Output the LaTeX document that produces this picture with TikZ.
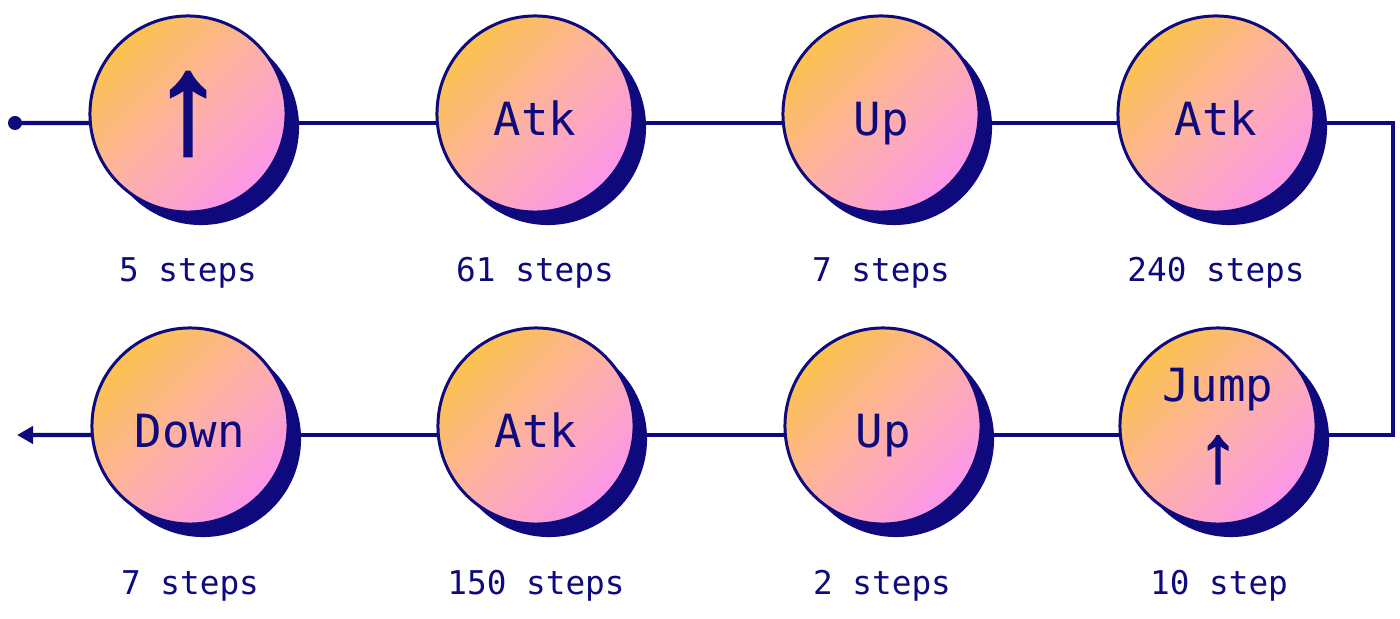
\documentclass[tikz,border=0pt]{standalone}
\usepackage{fontspec}
\setmonofont{DejaVu Sans Mono}
\newfontfamily\arrowfont[FakeBold=2.5]{Liberation Sans}
\usepackage{tikz}
\usetikzlibrary{arrows.meta, shadows, backgrounds, positioning}
\definecolor{navy}{HTML}{0E0A7E}
\definecolor{warmtop}{HTML}{FCC24E}
\definecolor{warmmid}{HTML}{FDB1A6}
\definecolor{warmbot}{HTML}{FC96EA}

\tikzset{
  move/.style={circle, draw=navy, line width=0.85pt, minimum size=1.96cm, inner sep=0pt,
    top color=warmtop, bottom color=warmbot, middle color=warmmid, shading angle=45,
    drop shadow={shadow xshift=0.13cm, shadow yshift=-0.13cm, fill=navy, opacity=1},
    text=navy, font=\ttfamily\fontsize{13}{15}\selectfont, align=center,
    text height=0.42cm, text depth=0cm},
  freemove/.style={move, text height=, text depth=},
  count/.style={text=navy, font=\ttfamily\fontsize{9.3}{11}\selectfont},
  flow/.style={navy, line width=1.15pt},
}

\begin{document}
\begin{tikzpicture}[x=0.01cm, y=0.01cm]
  \useasboundingbox (0,0) rectangle (1400,618);

  %% Moves, top row left to right, bottom row right to left
  \node[freemove] (m1) at (188,504) {\arrowfont\fontsize{40}{40}\selectfont ↑};
  \foreach \n/\x/\y/\t in {m2/535/504/Atk, m3/881/504/Up, m4/1216/504/Atk,
                           m6/883/192/Up, m7/536/192/Atk, m8/190/192/Down} {
    \node[move] (\n) at (\x,\y) {\t};
  }
  \node[freemove] (m5) at (1218,192)
    {Jump\\[6pt]{\arrowfont\fontsize{23}{23}\selectfont ↑}};

  %% Step counts under each move
  \foreach \n/\x/\y/\t in {l1/188/345/5 steps, l2/535/345/61 steps, l3/881/345/7 steps,
                           l4/1216/345/240 steps, l5/1219/32/10 step, l6/882/32/2 steps,
                           l7/536/32/150 steps, l8/190/32/7 steps} {
    \node[count] (\n) at (\x,\y) {\t};
  }

  %% Track
  \coordinate (start) at (15,495);
  \coordinate (rturn) at (1393,339);
  \coordinate (finish) at (17,183);
  \fill[navy] (start) circle (7);
  \begin{scope}[on background layer]
    \draw[flow] (start) -- ([yshift=-0.09cm]m1.center);
    \foreach \a/\b in {m1/m2, m2/m3, m3/m4, m5/m6, m6/m7, m7/m8} {
      \draw[flow] ([yshift=-0.09cm]\a.center) -- ([yshift=-0.09cm]\b.center);
    }
    \draw[flow] ([yshift=-0.09cm]m4.center) -| (rturn) |- ([yshift=-0.09cm]m5.center);
    \draw[flow, -{Triangle[length=0.16cm, width=0.17cm]}]
      ([yshift=-0.09cm]m8.center) -- (finish);
  \end{scope}
\end{tikzpicture}
\end{document}
